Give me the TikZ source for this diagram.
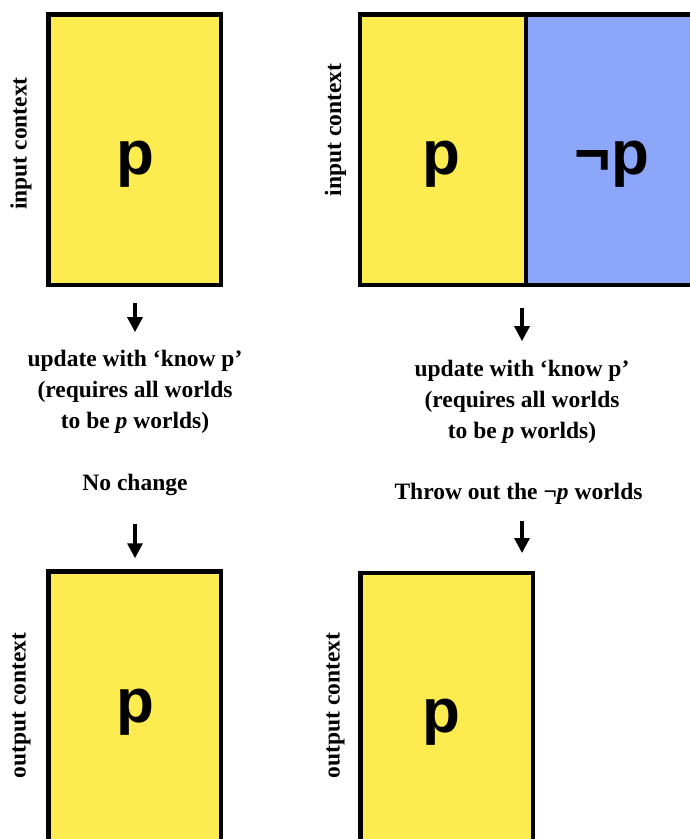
\documentclass[tikz,border=0pt]{standalone}
\usepackage{fontspec}
\setmainfont{Liberation Serif}
\newfontfamily\letterfont{Liberation Sans}
\usepackage{tikz}
\usetikzlibrary{positioning, arrows.meta}
\definecolor{worldyellow}{RGB}{252,236,80}
\definecolor{worldblue}{RGB}{140,166,250}

\begin{document}
\begin{tikzpicture}[
        x = 1pt, y = -1pt,
        world/.style = {draw, line width=4.5pt, outer sep=0pt, inner sep=0pt, minimum width=172.5pt, minimum height=270.5pt},
        letter/.style = {inner sep=0pt, font=\letterfont\bfseries\fontsize{62}{62}\selectfont},
        side/.style = {rotate=90, inner sep=0pt, font=\bfseries\fontsize{23.5}{28}\selectfont},
        note/.style = {align=center, inner sep=0pt, font=\bfseries\fontsize{23.5}{31}\selectfont},
        arrow/.style = {-{Triangle[length=15pt, width=15pt]}, line width=3.2pt},
    ]
        \useasboundingbox (0,0) rectangle (690,839);
        \clip (0,0) rectangle (690,839);

        \node[world, fill=worldyellow] (inL) at (134.5,149.5) {};
        \node[world, fill=worldyellow, minimum width=165.75pt] (inY) at (443.1,149.5) {};
        \node[world, fill=worldblue, right=0pt of inY] (inN) {};
        \node[world, fill=worldyellow, minimum height=300pt, anchor=north] (outL) at (134.5,571.25) {};
        \node[world, fill=worldyellow, minimum height=300pt, anchor=north] (outR) at (446.5,573) {};

        \node[letter] (pInL) at (135,164) {p};
        \node[letter] (pInY) at (441,164) {p};
        \node[letter] (pInN) at (612,164) {¬p};
        \node[letter] (pOutL) at (135,712) {p};
        \node[letter] (pOutR) at (441,722) {p};

        \node[side] (sideInL) at (21,143.5) {input context};
        \node[side] (sideInR) at (335.5,130) {input context};
        \node[side] (sideOutL) at (21.5,705.5) {output context};
        \node[side] (sideOutR) at (335.5,705.5) {output context};

        \node[note] (updL) at (135,392) {update with ‘know p’\\(requires all worlds\\to be \textit{p} worlds)};
        \node[note] (keep) at (135,485) {No change};
        \node[note] (updR) at (522,402) {update with ‘know p’\\(requires all worlds\\to be \textit{p} worlds)};
        \node[note] (throw) at (518.5,494) {Throw out the ¬\textit{p} worlds};

        \draw[arrow, shorten <=18pt, shorten >=18pt] (inL.south -| updL.north) -- (updL.north);
        \draw[arrow, shorten <=28pt, shorten >=13pt] (keep.south) -- (keep.south |- outL.north);
        \draw[arrow, shorten <=23pt, shorten >=19pt] (inY.south -| updR.north) -- (updR.north);
        \draw[arrow, shorten <=16pt, shorten >=20pt] (updR.south |- throw.south) -- (updR.south |- outR.north);
    \end{tikzpicture}
\end{document}
